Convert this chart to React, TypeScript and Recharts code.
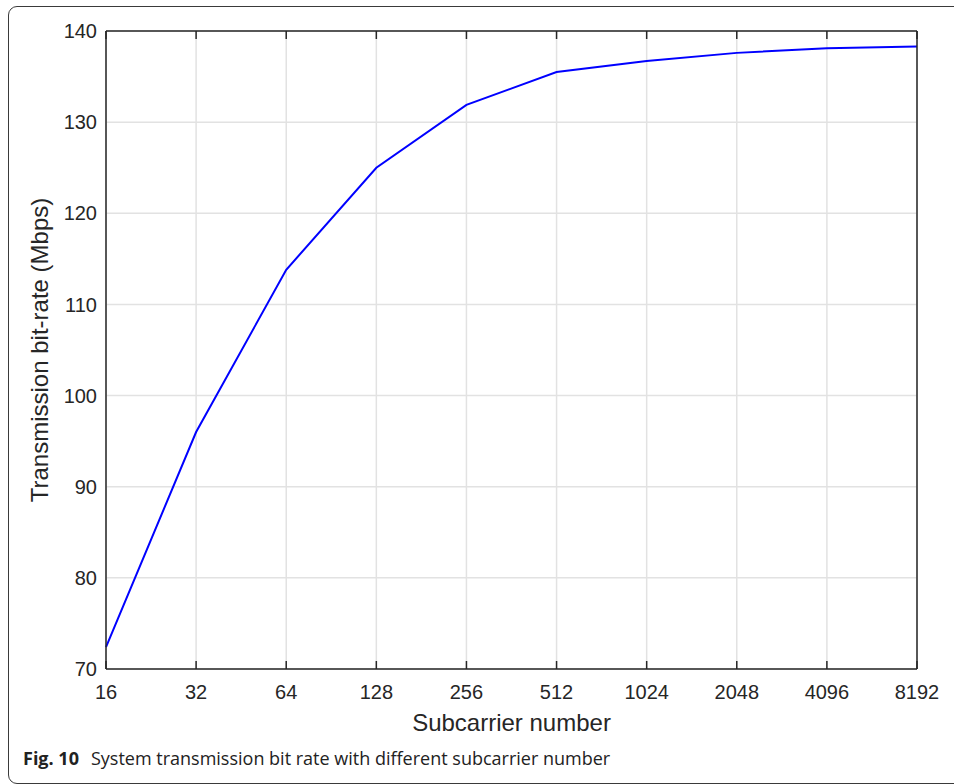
import React from "react";
import {CartesianGrid, Line, LineChart, XAxis, YAxis} from "recharts";

// subcarrier counts along the x axis
const subcarriers = ["16", "32", "64", "128", "256", "512", "1024", "2048", "4096", "8192"];
// transmission bit-rate in Mbps, one per subcarrier count
const bitRates = [72.4, 96.0, 113.8, 125.0, 131.9, 135.5, 136.7, 137.6, 138.1, 138.3];
const yTicks = [70, 80, 90, 100, 110, 120, 130, 140];

const data = subcarriers.map((n, i) => ({n, rate: bitRates[i]}));

const axisColor = "#262626";
const tickFont = {fill: axisColor, fontSize: 20, fontFamily: "'Liberation Sans', Arial, sans-serif"};
const tickLine = {stroke: axisColor, strokeWidth: 1.5};
const noLabel = () => "";

function XLabel({viewBox}: any) {
    const cx = viewBox.x + viewBox.width / 2;
    return (
        <text x={cx} y={viewBox.y + 62} textAnchor="middle" fill={axisColor}
              fontSize={24} fontFamily="'Liberation Sans', Arial, sans-serif">
            Subcarrier number
        </text>
    );
}

function YLabel({viewBox}: any) {
    const cy = viewBox.y + viewBox.height / 2;
    const x = 48;
    return (
        <text x={x} y={cy} transform={`rotate(-90 ${x} ${cy})`} textAnchor="middle" fill={axisColor}
              fontSize={24} fontFamily="'Liberation Sans', Arial, sans-serif">
            Transmission bit-rate (Mbps)
        </text>
    );
}

export default function App() {
    return (
        <div style={{position: "absolute", left: 0, top: 0, width: 954, height: 784, overflow: "hidden", background: "#fff"}}>
            <div style={{
                position: "absolute", left: 8, top: 6, width: 970, height: 776,
                border: "1px solid #3a3a3a", borderRadius: 9,
            }}/>
            <div style={{position: "absolute", left: 0, top: 0}}>
                <LineChart width={954} height={784} data={data} margin={{top: 31, right: 37, bottom: 45, left: 0}}>
                    <CartesianGrid stroke="#e2e2e2" strokeWidth={1.5} />
                    {/* labelled axes */}
                    <XAxis dataKey="n" interval={0} height={70}
                           tickLine={false} tickSize={0} tickMargin={16} tick={tickFont}
                           stroke={axisColor} strokeWidth={1.5}
                           label={<XLabel/>}/>
                    <YAxis domain={[70, 140]} ticks={yTicks} width={106} interval={0}
                           tickLine={false} tickSize={0} tickMargin={9} tick={tickFont}
                           stroke={axisColor} strokeWidth={1.5}
                           label={<YLabel/>}/>
                    {/* mirrored axes just for the inward tick marks and the box */}
                    <XAxis xAxisId="bottomTicks" dataKey="n" orientation="bottom" mirror interval={0}
                           tickFormatter={noLabel} tickSize={8} tickLine={tickLine} axisLine={false}/>
                    <XAxis xAxisId="top" dataKey="n" orientation="top" mirror interval={0}
                           tickFormatter={noLabel} tickSize={8} tickLine={tickLine}
                           stroke={axisColor} strokeWidth={1.5}/>
                    <YAxis yAxisId="leftTicks" orientation="left" mirror domain={[70, 140]} ticks={yTicks}
                           type="number" interval={0} tickFormatter={noLabel} tickSize={8} tickLine={tickLine}
                           axisLine={false}/>
                    <YAxis yAxisId="right" orientation="right" mirror domain={[70, 140]} ticks={yTicks}
                           type="number" interval={0} tickFormatter={noLabel} tickSize={8} tickLine={tickLine}
                           stroke={axisColor} strokeWidth={1.5}/>
                    <Line type="linear" dataKey="rate" stroke="#0000ff" strokeWidth={2}
                          dot={false} isAnimationActive={false}/>
                </LineChart>
            </div>
            <div style={{
                position: "absolute", left: 23, top: 746, fontFamily: "'Open Sans', sans-serif",
                fontSize: 18, color: "#222", whiteSpace: "nowrap",
            }}>
                <b>Fig. 10</b><span style={{marginLeft: 12}}>System transmission bit rate with different subcarrier number</span>
            </div>
        </div>
    );
}
